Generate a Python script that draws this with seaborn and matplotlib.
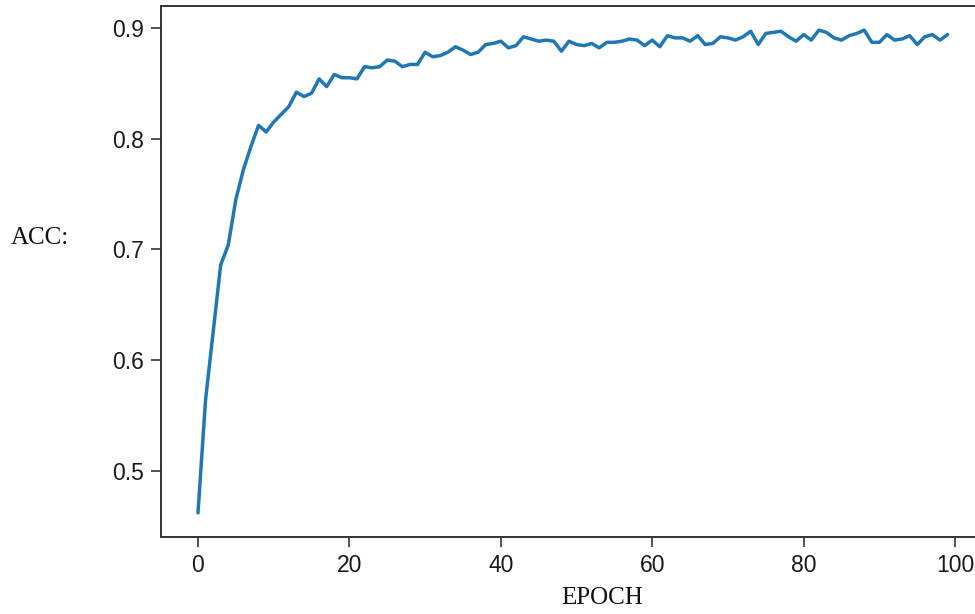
import numpy as np
import pandas as pd
import matplotlib
matplotlib.use("Agg")
import matplotlib.pyplot as plt
import seaborn as sns

# Validation accuracy per training epoch
epochs = list(range(100))
acc = [
    0.462, 0.564, 0.625, 0.686, 0.704, 0.745, 0.772, 0.793, 0.812, 0.806,
    0.815, 0.822, 0.829, 0.842, 0.838, 0.841, 0.854, 0.847, 0.858, 0.855,
    0.855, 0.854, 0.865, 0.864, 0.865, 0.871, 0.870, 0.865, 0.867, 0.867,
    0.878, 0.874, 0.875, 0.878, 0.883, 0.880, 0.876, 0.878, 0.885, 0.886,
    0.888, 0.882, 0.884, 0.892, 0.890, 0.888, 0.889, 0.888, 0.879, 0.888,
    0.885, 0.884, 0.886, 0.882, 0.887, 0.887, 0.888, 0.890, 0.889, 0.884,
    0.889, 0.883, 0.893, 0.891, 0.891, 0.888, 0.893, 0.885, 0.886, 0.892,
    0.891, 0.889, 0.892, 0.897, 0.885, 0.895, 0.896, 0.897, 0.892, 0.888,
    0.894, 0.889, 0.898, 0.896, 0.891, 0.889, 0.893, 0.895, 0.898, 0.887,
    0.887, 0.894, 0.889, 0.890, 0.893, 0.885, 0.892, 0.894, 0.889, 0.894,
]
xticks = [0, 20, 40, 60, 80, 100]
yticks = [0.5, 0.6, 0.7, 0.8, 0.9]

df = pd.DataFrame({"EPOCH": epochs, "ACC": acc})

sns.set_style("ticks")
plt.rcParams["font.family"] = ["Liberation Sans", "DejaVu Sans"]

W, H = 975, 614
fig = plt.figure(figsize=(W / 100, H / 100), dpi=100)
left, right, top, bottom = 160.5, 985.0, 6.0, 537.0
ax = fig.add_axes([left / W, 1 - bottom / H, (right - left) / W, (bottom - top) / H])

sns.lineplot(data=df, x="EPOCH", y="ACC", ax=ax, color="#1f77b4", linewidth=2.5)

ax.set_xticks(xticks)
ax.set_yticks(yticks)
ax.set_xticklabels([str(t) for t in xticks])
ax.set_yticklabels([f"{t:.1f}" for t in yticks])
ax.tick_params(axis="both", labelsize=16.5, length=7, width=1.1, color="#222222",
               labelcolor="#1a1a1a", pad=5)
for s in ax.spines.values():
    s.set_linewidth(1.4)
    s.set_color("#333333")

serif = ["Liberation Serif", "DejaVu Serif"]
ax.set_xlabel("EPOCH", fontsize=18, family=serif, color="#111111")
ax.set_ylabel("ACC:", fontsize=18, family=serif, color="#111111", rotation=0,
              ha="center", va="center")
ax.xaxis.set_label_coords((602 - left) / (right - left), -(598 - bottom) / (bottom - top), transform=ax.transAxes)
ax.yaxis.set_label_coords((40 - left) / (right - left), (bottom - 238) / (bottom - top))
ax.xaxis.label.set_va("center")

fig.savefig("out.png", dpi=100, facecolor="white")
